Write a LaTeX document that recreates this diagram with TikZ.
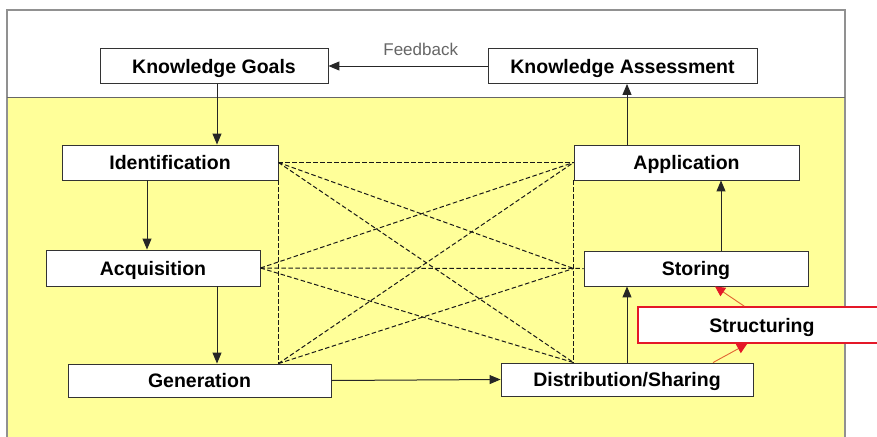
\documentclass[tikz,border=0pt]{standalone}
\usepackage{fontspec}
\setmainfont{Liberation Sans}
\usetikzlibrary{arrows.meta}
\definecolor{pale}{RGB}{255,255,153}
\definecolor{framegray}{RGB}{145,145,145}
\definecolor{structred}{RGB}{228,24,40}
\definecolor{linkorange}{RGB}{226,100,50}

\begin{document}
\begin{tikzpicture} [x = 1pt, y = -1pt, >= {Triangle[length = 11pt, width = 9pt]},
  box/.style = {draw = black!80, fill = white, line width = 0.9pt, inner sep = 0pt, text height = 14pt, text depth = 0pt, font = \fontsize{19.5}{22}\selectfont\bfseries},
  flow/.style = {->, draw = black!85, line width = 1pt},
  dashlink/.style = {draw = black!90, line width = 1pt, dash pattern = on 4.5pt off 2.5pt},
  redlink/.style = {->, draw = linkorange, line width = 0.9pt, >= {Triangle[length = 10pt, width = 10pt, color = structred]}}]
\useasboundingbox (0,0) rectangle (877,436);
\fill[white] (0,0) rectangle (877,436);
\fill[pale] (7,97) rectangle (845,445);
\draw[framegray, line width = 1.5pt] (7,445) -- (7,10) -- (845,10) -- (845,445);
\draw[black!60, line width = 1pt] (7,97) -- (845,97);

\node[box, minimum width = 228pt, minimum height = 35pt] (kg) at (214,66) {Knowledge Goals};
\node[box, minimum width = 269pt, minimum height = 35pt] (ka) at (622.5,66) {Knowledge Assessment};
\node[box, minimum width = 216pt, minimum height = 35pt] (id) at (170,162.5) {Identification};
\node[box, minimum width = 225pt, minimum height = 35pt] (ap) at (686.5,162.5) {Application};
\node[box, minimum width = 214pt, minimum height = 36pt] (aq) at (153,268) {Acquisition};
\node[box, minimum width = 224pt, minimum height = 35pt] (st) at (696,268.5) {Storing};
\node[box, minimum width = 263pt, minimum height = 33pt] (ge) at (199.5,380.5) {Generation};
\node[box, minimum width = 252pt, minimum height = 33pt] (ds) at (627,379.5) {Distribution/Sharing};
\node[box, draw = structred, line width = 1.8pt, minimum width = 248pt, minimum height = 36pt] (sr) at (762,325) {Structuring};

\coordinate (l3) at (id.south east |- ge.north);
\coordinate (r2) at (ap.south west |- st.west);
\coordinate (r3) at (ap.south west |- ds.north);

\draw[dashlink] (id.south east) -- (l3);
\draw[dashlink] (ap.south west) -- (r3);
\draw[dashlink] (id.east) -- (ap.west);
\draw[dashlink] (aq.east) -- (st.west);
\draw[dashlink] (id.east) -- (r2);
\draw[dashlink] (id.east) -- (r3);
\draw[dashlink] (aq.east) -- (ap.west);
\draw[dashlink] (aq.east) -- (r3);
\draw[dashlink] (l3) -- (ap.west);
\draw[dashlink] (l3) -- (r2);

\draw[flow] ([xshift = 3pt]kg.south) -- ([xshift = 3pt]kg.south |- id.north);
\draw[flow] ([xshift = -6pt]aq.north |- id.south) -- ([xshift = -6pt]aq.north);
\draw[flow] ([xshift = 3pt]kg.south |- aq.south) -- ([xshift = 3pt]kg.south |- ge.north);
\draw[flow] (ge.east) -- (ds.west);
\draw[flow] (ds.north) -- (ds.north |- st.south);
\draw[flow] ([xshift = 25pt]st.north) -- ([xshift = 25pt]st.north |- ap.south);
\draw[flow] (ds.north |- ap.north) -- (ds.north |- ka.south);
\draw[flow] (ka.west) -- node[pos = 0.42, above = 10pt, inner sep = 0pt, text = black!60, font = \fontsize{17}{20}\selectfont] (fb) {Feedback} (kg.east);

\draw[redlink] ([xshift = 107pt]sr.north west) -- ([xshift = 19pt]st.south);
\draw[redlink] ([xshift = 86pt]ds.north) -- ([xshift = 110pt]sr.south west);
\end{tikzpicture}
\end{document}
